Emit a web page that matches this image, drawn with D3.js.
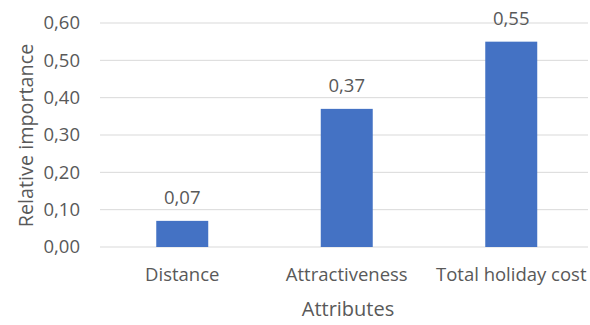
<!DOCTYPE html>
<html>
<head>
<meta charset="utf-8">
<script src="https://cdn.jsdelivr.net/npm/d3@7"></script>
<style>
  html, body { margin: 0; padding: 0; background: #fff; }
  svg text { font-family: "Open Sans", "Noto Sans", sans-serif; fill: #595959; }
</style>
</head>
<body>
<svg id="chart" width="590" height="325"></svg>
<script>
// Relative importance of holiday attributes
const categories = ["Distance", "Attractiveness", "Total holiday cost"];
const importance = [0.07, 0.37, 0.55];
const yTicks = [0, 0.1, 0.2, 0.3, 0.4, 0.5, 0.6];

const svg = d3.select("#chart");
const plot = { left: 100, right: 593.5, top: 23, bottom: 247 };

const x = d3.scaleBand()
  .domain(categories)
  .range([plot.left, plot.right])
  .paddingInner(0.684)
  .paddingOuter(0.342);

const y = d3.scaleLinear().domain([0, 0.6]).range([plot.bottom, plot.top]);

const fmt = v => d3.format(".2f")(v).replace(".", ",");

// horizontal gridlines
svg.append("g")
  .selectAll("line")
  .data(yTicks)
  .join("line")
  .attr("x1", plot.left).attr("x2", 588)
  .attr("y1", d => y(d)).attr("y2", d => y(d))
  .attr("stroke", "#d9d9d9")
  .attr("stroke-width", 1);

// y tick labels
svg.append("g")
  .selectAll("text")
  .data(yTicks)
  .join("text")
  .attr("x", 80)
  .attr("y", d => y(d))
  .attr("dy", "0.35em")
  .attr("text-anchor", "end")
  .style("font-size", "18.5px")
  .text(fmt);

// bars
svg.append("g")
  .selectAll("rect")
  .data(categories)
  .join("rect")
  .attr("x", d => x(d))
  .attr("width", x.bandwidth())
  .attr("y", (d, i) => y(importance[i]))
  .attr("height", (d, i) => y(0) - y(importance[i]))
  .attr("fill", "#4472c4");

// value labels
svg.append("g")
  .selectAll("text")
  .data(categories)
  .join("text")
  .attr("x", d => x(d) + x.bandwidth() / 2)
  .attr("y", (d, i) => y(importance[i]) - 17)
  .attr("text-anchor", "middle")
  .style("font-size", "18.5px")
  .text((d, i) => fmt(importance[i]));

// category labels
svg.append("g")
  .selectAll("text")
  .data(categories)
  .join("text")
  .attr("x", d => x(d) + x.bandwidth() / 2)
  .attr("y", 281)
  .attr("text-anchor", "middle")
  .style("font-size", "18.5px")
  .text(d => d);

// axis titles
svg.append("text")
  .attr("x", 348)
  .attr("y", 316)
  .attr("text-anchor", "middle")
  .style("font-size", "20px")
  .text("Attributes");

svg.append("text")
  .attr("transform", "translate(33,135.5) rotate(-90)")
  .attr("text-anchor", "middle")
  .style("font-size", "19.8px")
  .text("Relative importance");
</script>
</body>
</html>
